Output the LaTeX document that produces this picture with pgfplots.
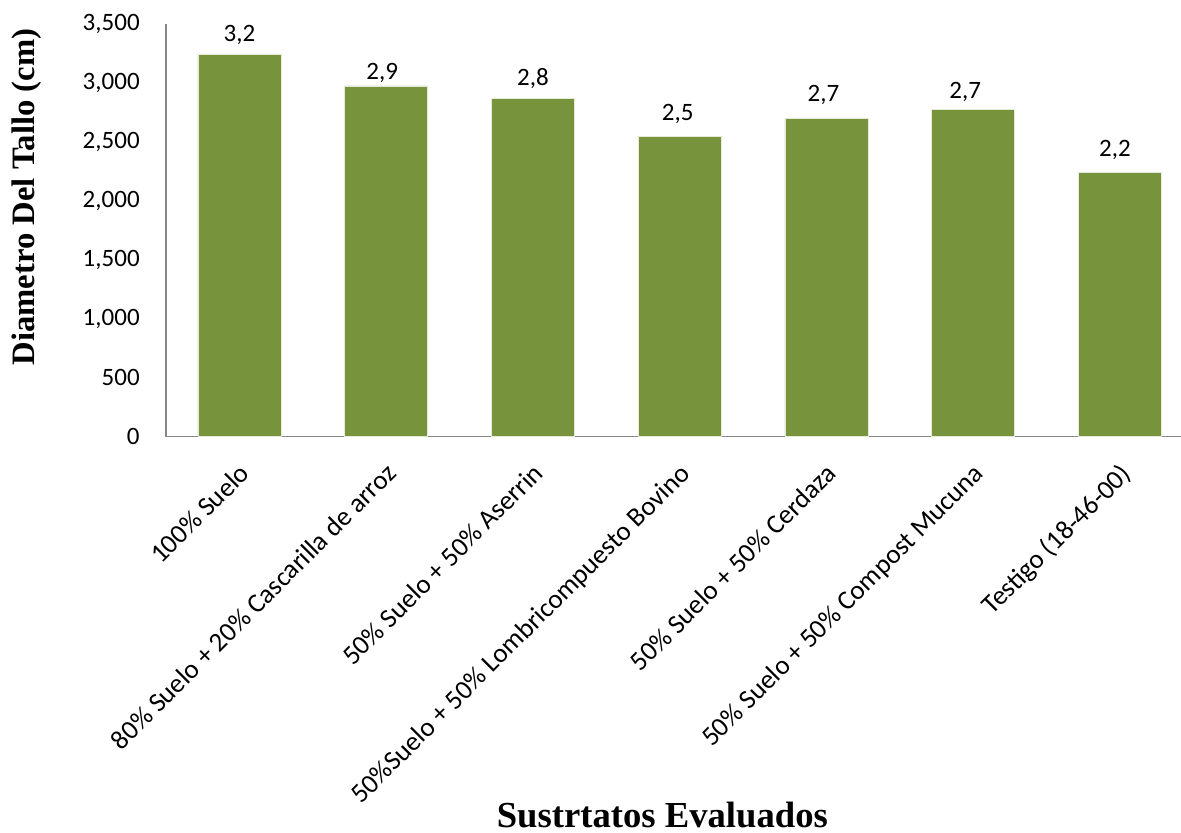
\documentclass[border=0pt]{standalone}
\usepackage{fontspec}
\setmainfont{Liberation Serif}
\newfontfamily\calibri{Carlito}
\usepackage{pgfplots}
\pgfplotsset{compat=1.18}
\usepackage{pgfplotstable}

\definecolor{barolive}{HTML}{77933C}
\definecolor{axisgray}{HTML}{868686}

% stem diameter per substrate; lab = printed value, dx/dy = label nudge (pt)
\pgfplotstableread{
x  val   lab  dx    dy
0  3245  3,2   0.0  7.4
1  2974  2,9  -2.4  3.6
2  2870  2,8   0.0  7.4
3  2544  2,5  -1.2 10.0
4  2697  2,7  -1.8 10.2
5  2773  2,7  -4.8  6.8
6  2244  2,2  -3.0  9.2
}\datos

\begin{document}
\begin{tikzpicture}
\begin{axis}[
  scale only axis,
  width=609pt, height=247.5pt,
  xmin=-0.5, xmax=6.416,
  ymin=0, ymax=3500,
  ytick={0,500,...,3500},
  scaled y ticks=false,
  /pgf/number format/.cd, fixed, 1000 sep={,}, assume math mode=true,
  /pgfplots/.cd,
  xtick=data,
  xticklabels={100\% Suelo,
    80\% Suelo + 20\% Cascarilla de arroz,
    50\% Suelo + 50\% Aserrin,
    50\%Suelo + 50\% Lombricompuesto Bovino,
    50\% Suelo + 50\% Cerdaza,
    50\% Suelo + 50\% Compost Mucuna,
    Testigo (18-46-00)},
  major tick length=0pt,
  axis x line*=bottom,
  axis y line*=left,
  axis line style={-, draw=axisgray, line width=0.8pt},
  yticklabel style={font=\calibri\fontsize{15}{18}\selectfont, anchor=east, inner sep=0pt, xshift=-15.6pt},
  xticklabel style={font=\calibri\fontsize{16.2}{19}\selectfont, yshift=-15pt, xshift=-1pt, rotate=45, anchor=north east, inner sep=0pt},
  xlabel={Sustrtatos Evaluados},
  xlabel style={font=\bfseries\fontsize{22}{26}\selectfont, inner sep=0pt, at={(axis description cs:0.489,-0.948)}, anchor=base},
  ylabel={Diametro Del Tallo (cm)},
  ylabel style={font=\bfseries\fontsize{19.6}{23}\selectfont, at={(axis description cs:-0.130,0.5806)}, anchor=base, rotate=0},
  clip=false,
]
\addplot[ybar, bar width=49.8pt, fill=barolive, draw=white!80!barolive, line width=0.4pt,
  point meta=explicit symbolic,
  visualization depends on={\thisrow{dx} \as \labdx},
  visualization depends on={\thisrow{dy} \as \labdy},
  nodes near coords,
  every node near coord/.append style={font=\calibri\fontsize{15}{18}\selectfont, anchor=base, inner sep=0pt, xshift=\labdx pt, yshift=\labdy pt},
] table[x=x, y=val, meta=lab] {\datos};
\end{axis}
\pgfresetboundingbox
\path[use as bounding box] (current axis.south west) ++(-99.6pt,-237.9pt) rectangle ++(708.6pt,499.8pt);
\end{tikzpicture}
\end{document}
